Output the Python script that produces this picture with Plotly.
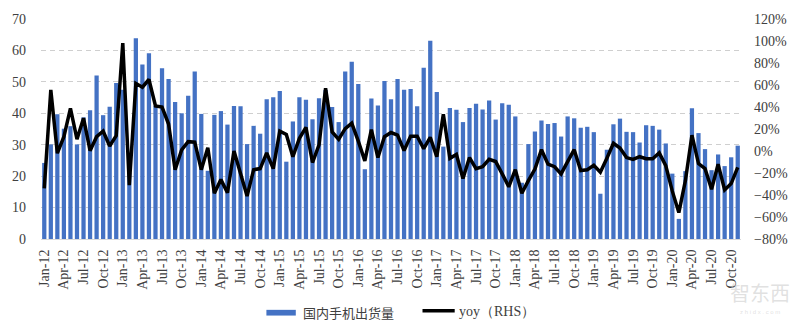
import plotly.graph_objects as go

# Monthly domestic handset shipments (million units) and year-on-year growth (%)
months = [f"{m}-{y:02d}" for y in range(12, 21)
          for m in ["Jan", "Feb", "Mar", "Apr", "May", "Jun",
                    "Jul", "Aug", "Sep", "Oct", "Nov", "Dec"]][:107]

shipments = [
    24.2, 30.1, 39.7, 35.1, 35.9, 30.1, 38.7, 41.0, 52.0, 39.4, 42.1, 49.6,
    47.5, 21.0, 63.9, 55.5, 59.1, 42.4, 54.3, 50.9, 43.6, 40.0, 45.6, 53.3,
    39.8, 21.7, 39.5, 40.7, 36.4, 42.3, 42.2, 30.2, 36.0, 33.5, 44.5, 45.1,
    47.1, 24.6, 37.4, 45.1, 44.3, 38.1, 44.8, 47.4, 42.0, 37.2, 53.3, 56.4,
    49.3, 22.2, 44.7, 42.5, 50.3, 44.5, 50.9, 47.5, 47.7, 42.2, 54.5, 63.1,
    46.8, 29.4, 41.7, 41.1, 37.2, 41.7, 43.0, 41.2, 44.1, 38.0, 43.2, 42.7,
    39.0, 17.9, 30.2, 34.2, 37.7, 36.6, 36.9, 32.6, 39.0, 38.4, 35.4, 35.7,
    34.0, 14.4, 28.4, 36.5, 38.3, 34.1, 34.0, 30.7, 36.2, 36.0, 34.8, 30.4,
    20.8, 6.4, 21.6, 41.6, 33.7, 28.6, 21.9, 26.9, 23.2, 26.0, 29.7,
]

yoy = [
    -34, 55.5, -2, 13, 38.7, 10.7, 29.8, 0.3, 13, 18, 4.5, 14,
    98, -31, 61.5, 58, 65, 41, 40, 24.5, -17, 1, 8.5, 8,
    -17, 3, -38.4, -26, -38, 0, -20.5, -41, -17, -16, -1.7, -16,
    18, 15, -5.2, 11.5, 21.5, -10.5, 5.5, 57, 17.4, 10.6, 20.3, 25.3,
    9, -9, 19.4, -6, 13, 16.8, 14.4, 0.4, 13.5, 13.5, 2.1, 12.4,
    -5.2, 33.5, -6.7, -3.2, -25, -6, -16, -14.3, -7.6, -9.6, -20.8, -32.5,
    -17, -38.4, -27, -16.4, 1.2, -12, -14.3, -20.8, -9.6, 1.2, -17.8, -17,
    -13, -19.3, -6.5, 7, 2.7, -6, -7.6, -5.2, -7, -7, -1.7, -13.4,
    -36.5, -56, -27, 14.4, -11.4, -16, -34.8, -12, -35.4, -29.6, -14.9,
]

tick_months = months[::3]

BLUE = "#4472C4"
SERIF = "'Liberation Serif', 'Times New Roman', 'DejaVu Serif', serif"
TXT = "#404040"

fig = go.Figure()
fig.add_trace(go.Bar(x=months, y=shipments, name="国内手机出货量",
                     marker=dict(color=BLUE, line=dict(width=0)),
                     yaxis="y"))
fig.add_trace(go.Scatter(x=months, y=yoy, name="yoy（RHS）", mode="lines",
                         line=dict(color="black", width=3.5),
                         yaxis="y2"))

fig.update_layout(
    width=800, height=326,
    margin=dict(l=33, r=53, t=12, b=87),
    paper_bgcolor="white", plot_bgcolor="white",
    showlegend=False,
    bargap=0.35,
    font=dict(family=SERIF, size=14, color=TXT),
    xaxis=dict(
        type="category",
        tickmode="array", tickvals=tick_months, ticktext=tick_months,
        tickangle=-90, tickfont=dict(family=SERIF, size=14, color=TXT),
        showgrid=False, showline=True, linecolor="#d9d9d9", linewidth=1,
        ticks="", ticklabelstandoff=4,
        range=[-0.5, len(months) - 0.5],
    ),
    yaxis=dict(
        range=[0, 70], dtick=10, tick0=0,
        showgrid=True, gridcolor="#cfcfcf", gridwidth=1, griddash="5px,4px",
        zeroline=False, showline=False, ticks="",
        tickfont=dict(family=SERIF, size=14, color=TXT),
        ticklabelstandoff=14,
    ),
    yaxis2=dict(
        overlaying="y", side="right",
        range=[-80, 120], dtick=20, tick0=-80, ticksuffix="%",
        showgrid=False, zeroline=False, showline=False, ticks="",
        tickfont=dict(family=SERIF, size=14, color=TXT),
        ticklabelstandoff=12,
    ),
)

# Legend drawn below the plot area
fig.add_shape(type="rect", xref="paper", yref="paper",
              x0=0.322, x1=0.364, y0=-0.348, y1=-0.322,
              fillcolor=BLUE, line=dict(width=0))
fig.add_annotation(xref="paper", yref="paper", x=0.371, y=-0.335,
                   xanchor="left", yanchor="middle", showarrow=False,
                   text="国内手机出货量",
                   font=dict(family="Noto Sans CJK SC", size=13, color=TXT))
fig.add_shape(type="line", xref="paper", yref="paper",
              x0=0.545, x1=0.591, y0=-0.326, y1=-0.326,
              line=dict(color="black", width=3.5))
fig.add_annotation(xref="paper", yref="paper", x=0.594, y=-0.33,
                   xanchor="left", yanchor="middle", showarrow=False,
                   text="yoy（RHS）",
                   font=dict(family=SERIF, size=14, color=TXT))

# Source mark in the lower right corner
fig.add_annotation(xref="paper", yref="paper", x=1.027, y=-0.245,
                   xanchor="center", yanchor="middle", showarrow=False,
                   text="智东西",
                   font=dict(family="Noto Sans CJK SC", size=20,
                             color="rgba(200,200,200,0.55)"))
fig.add_annotation(xref="paper", yref="paper", x=1.027, y=-0.33,
                   xanchor="center", yanchor="middle", showarrow=False,
                   text="z h i d x . c o m",
                   font=dict(family="Liberation Sans", size=6,
                             color="rgba(200,200,200,0.55)"))

fig.write_html("out.html")
